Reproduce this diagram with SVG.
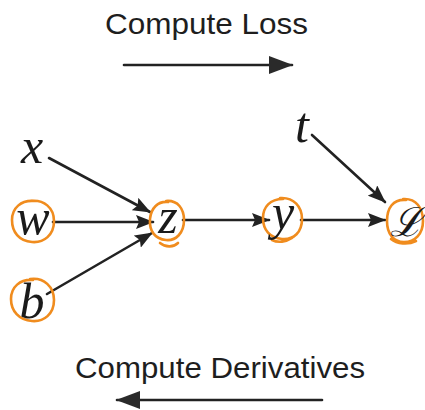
<svg xmlns="http://www.w3.org/2000/svg" width="425" height="410" viewBox="0 0 425 410">
  <defs>
    <style>
      .title { font-family: "Liberation Sans", Arial, sans-serif; fill: #1e1e1e; }
      .var { font-family: "Liberation Serif", "Times New Roman", serif; font-style: italic; fill: #1a1a1a; text-anchor: middle; }
      .ring { fill: none; stroke: #f08c1e; stroke-width: 2.6; stroke-linecap: round; }
      .edge { fill: none; stroke: #222; stroke-width: 2.6; stroke-linecap: round; }
    </style>
    <marker id="ah" markerWidth="18" markerHeight="14" refX="17" refY="7" orient="auto" markerUnits="userSpaceOnUse">
      <path d="M0,0 L18,7 L0,14 L3,7 z" fill="#222"/>
    </marker>
    <marker id="big" markerWidth="24" markerHeight="18" refX="23" refY="9" orient="auto" markerUnits="userSpaceOnUse">
      <path d="M0,0 L24,9 L0,18 z" fill="#2a2a2a"/>
    </marker>
  </defs>
  <rect width="425" height="410" fill="#ffffff"/>

  <g id="title-forward">
    <text class="title" x="105" y="34" font-size="30" textLength="203" lengthAdjust="spacingAndGlyphs">Compute Loss</text>
    <line class="edge" x1="124" y1="65" x2="292" y2="65" stroke-width="3.2" marker-end="url(#big)"/>
  </g>

  <g id="title-backward">
    <text class="title" x="75" y="378" font-size="29" textLength="290" lengthAdjust="spacingAndGlyphs">Compute Derivatives</text>
    <line class="edge" x1="322" y1="400" x2="117" y2="400" stroke-width="3.2" marker-end="url(#big)"/>
  </g>

  <g id="connectors">
    <line class="edge" x1="49" y1="158" x2="150" y2="212" marker-end="url(#ah)"/>
    <line class="edge" x1="53" y1="222" x2="153" y2="222" marker-end="url(#ah)"/>
    <line class="edge" x1="47" y1="294" x2="152" y2="233" marker-end="url(#ah)"/>
    <line class="edge" x1="183" y1="220" x2="269" y2="220" marker-end="url(#ah)"/>
    <line class="edge" x1="301" y1="220" x2="385" y2="220" marker-end="url(#ah)"/>
    <line class="edge" x1="312" y1="135" x2="385" y2="202" marker-end="url(#ah)"/>
  </g>

  <g id="node-x">
    <text class="var" x="32" y="163" font-size="50">x</text>
  </g>

  <g id="node-w">
    <path class="ring" d="M30,201 C44,199 54,208 54,221 C54,235 44,243 32,242 C19,241 12,232 12,220 C12,208 21,200 34,201"/>
    <text class="var" x="33" y="234" font-size="50">w</text>
  </g>

  <g id="node-b">
    <path class="ring" d="M30,279 C44,277 54,287 54,300 C54,314 44,322 32,321 C19,320 11,311 11,299 C11,287 20,279 33,280"/>
    <text class="var" x="32" y="318" font-size="50">b</text>
  </g>

  <g id="node-z">
    <path class="ring" d="M166,201 C178,200 184,209 184,220 C184,233 176,241 166,240 C155,239 149,231 150,219 C151,208 158,201 168,202 M160,243 C166,248 174,247 178,243"/>
    <text class="var" x="168" y="233" font-size="50">z</text>
  </g>

  <g id="node-y">
    <path class="ring" d="M280,198 C294,197 302,207 302,219 C302,232 294,240 282,239 C270,238 263,230 263,218 C263,207 270,199 283,199 M272,240 C278,243 286,242 292,238"/>
    <text class="var" x="283" y="229" font-size="50">y</text>
  </g>

  <g id="node-t">
    <text class="var" x="302" y="142" font-size="50">t</text>
  </g>

  <g id="node-L">
    <path class="ring" d="M403,199 C416,198 423,208 423,221 C423,234 415,242 404,242 C393,242 387,233 387,221 C387,208 393,199 406,200 M391,239 C397,244 408,245 416,241"/>
    <text class="var" x="406" y="236" font-size="40" font-family="'DejaVu Sans', 'DejaVu Serif', serif">ℒ</text>
  </g>
</svg>
